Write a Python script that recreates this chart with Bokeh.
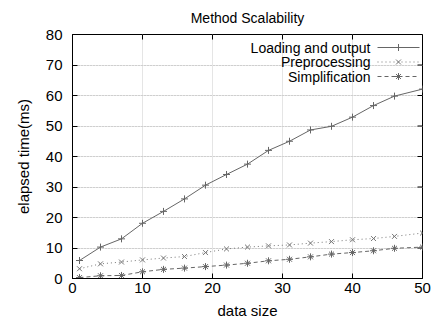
import math
from bokeh.plotting import figure
from bokeh.models import Range1d, LinearAxis, Label, FixedTicker, Grid
from bokeh.embed import file_html
from bokeh.resources import INLINE

# ---- data ----
data_size = [1, 4, 7, 10, 13, 16, 19, 22, 25, 28, 31, 34, 37, 40, 43, 46, 50]
loading = [5.9, 10.3, 13.0, 18.1, 22.0, 26.1, 30.6, 34.1, 37.5, 42.0, 45.0,
           48.7, 49.9, 52.9, 56.7, 59.8, 62.1]
preprocessing = [3.2, 4.8, 5.4, 6.1, 6.7, 7.2, 8.5, 9.7, 10.3, 10.7, 11.0,
                 11.6, 12.1, 12.7, 13.1, 13.8, 14.9]
simplification = [0.3, 0.9, 1.0, 2.2, 3.0, 3.4, 3.9, 4.4, 5.0, 5.8, 6.3,
                  7.1, 8.0, 8.5, 9.1, 9.9, 10.3]
series_names = ["Loading and output", "Preprocessing", "Simplification"]
title_text = "Method Scalability"
x_ticks = [0, 10, 20, 30, 40, 50]
y_ticks = [0, 10, 20, 30, 40, 50, 60, 70, 80]
X_MAX = 50
Y_MAX = 80

FONT = "Liberation Sans"
FRAME_W, FRAME_H = 350, 244

p = figure(width=433, height=322, output_backend="svg", toolbar_location=None,
           x_range=Range1d(0, X_MAX), y_range=Range1d(0, Y_MAX),
           min_border_left=72, min_border_right=11, min_border_top=34,
           min_border_bottom=44, x_axis_location=None, y_axis_location=None)
# pixel ranges of the frame, used only for the legend key
p.extra_x_ranges = {"px": Range1d(0, FRAME_W)}
p.extra_y_ranges = {"px": Range1d(0, FRAME_H)}

p.title.text = title_text
p.title.align = "center"
p.title.vertical_align = "top"
p.title.text_font = FONT
p.title.text_font_style = "normal"
p.title.text_font_size = "14px"
p.title.text_color = "#000000"
p.title.standoff = 14
p.title.offset = 7

p.outline_line_color = "#000000"
p.outline_line_width = 1
p.background_fill_color = "white"
p.border_fill_color = "white"


def make_axis(loc, ticks, label):
    ax = LinearAxis(ticker=FixedTicker(ticks=ticks))
    ax.axis_line_color = "#000000"
    ax.major_tick_line_color = "#000000"
    ax.major_tick_in = 5
    ax.major_tick_out = 0
    ax.minor_tick_line_color = None
    ax.major_label_text_font = FONT
    ax.major_label_text_font_size = "15px"
    ax.major_label_text_color = "#000000"
    ax.axis_label = label
    ax.axis_label_text_font = FONT
    ax.axis_label_text_font_size = "15px"
    ax.axis_label_text_font_style = "normal"
    ax.axis_label_text_color = "#000000"
    p.add_layout(ax, loc)
    return ax


xb = make_axis("below", x_ticks, "data size")
xb.major_label_standoff = 4
xb.axis_label_standoff = 6
yl = make_axis("left", y_ticks, "elapsed time(ms)")
yl.major_label_standoff = 10
yl.axis_label_standoff = 11

# mirrored inward ticks on the top and right edges
p.ray(x=x_ticks, y=[Y_MAX] * len(x_ticks), length=5, length_units="screen",
      angle=-math.pi / 2, line_color="#000000", line_width=1)
p.ray(x=[X_MAX] * len(y_ticks), y=y_ticks, length=5, length_units="screen",
      angle=math.pi, line_color="#000000", line_width=1)

g = Grid(dimension=1, ticker=FixedTicker(ticks=y_ticks[1:-1]),
         grid_line_color="#b8b8b8", grid_line_dash="1 2")
p.add_layout(g, "center")

styles = [
    dict(color="#666666", dash="solid", marker="cross"),
    dict(color="#777777", dash="1 3", marker="x"),
    dict(color="#666666", dash="4 3", marker="asterisk"),
]
values = [loading, preprocessing, simplification]

for name, ys, st in zip(series_names, values, styles):
    p.line(data_size, ys, line_color=st["color"], line_width=1,
           line_dash=st["dash"])
    p.scatter(data_size, ys, marker=st["marker"], size=7,
              line_color=st["color"], line_width=1, fill_color=None)

# gnuplot-style key: right-aligned text, then sample line with marker
KEY_TEXT_X = 298
KEY_LINE_X0, KEY_LINE_X1 = 305, 347
KEY_Y0, KEY_DY = 231, 14.5
for i, (name, st) in enumerate(zip(series_names, styles)):
    ky = KEY_Y0 - KEY_DY * i
    p.add_layout(Label(x=KEY_TEXT_X, y=ky, x_units="screen", y_units="screen",
                       text=name, text_align="right", text_baseline="middle",
                       text_font=FONT, text_font_size="14px",
                       text_color="#000000"))
    p.line([KEY_LINE_X0, KEY_LINE_X1], [ky, ky], line_color=st["color"],
           line_width=1, line_dash=st["dash"],
           x_range_name="px", y_range_name="px")
    p.scatter([(KEY_LINE_X0 + KEY_LINE_X1) / 2], [ky], marker=st["marker"],
              size=7, line_color=st["color"], line_width=1, fill_color=None,
              x_range_name="px", y_range_name="px")

open("out.html", "w").write(file_html(p, INLINE))
